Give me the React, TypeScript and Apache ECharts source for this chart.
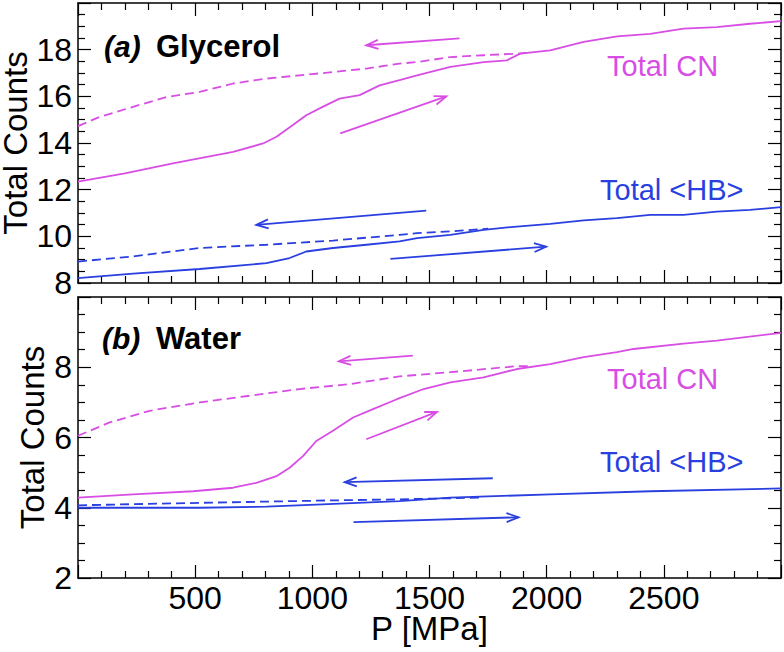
import React, { useEffect, useRef } from "react";
import * as echarts from "echarts";

// ---------- data ----------
const xTickLabels = ["500", "1000", "1500", "2000", "2500"];

// (a) Glycerol — Total CN, compression (solid)
const glyCnUpP = [0, 200, 405, 662, 790, 847, 917, 974, 1044, 1116, 1202, 1287, 1372, 1447, 1589, 1731, 1830, 1887, 2015, 2158, 2300, 2442, 2584, 2726, 2868, 3000];
const glyCnUpY = [12.34, 12.7, 13.13, 13.62, 13.98, 14.27, 14.77, 15.19, 15.55, 15.9, 16.05, 16.47, 16.69, 16.9, 17.26, 17.47, 17.54, 17.83, 17.97, 18.33, 18.57, 18.68, 18.9, 18.97, 19.11, 19.22];
// (a) Glycerol — Total CN, decompression (dashed)
const glyCnDownP = [0, 93, 235, 377, 519, 662, 804, 946, 1088, 1231, 1372, 1447, 1589, 1731, 1873, 1930];
const glyCnDownY = [14.72, 15.12, 15.55, 15.97, 16.19, 16.55, 16.76, 16.9, 17.04, 17.19, 17.4, 17.47, 17.68, 17.76, 17.83, 17.87];
// (a) Glycerol — Total <HB>, compression (solid)
const glyHbUpP = [0, 235, 519, 804, 903, 974, 1088, 1231, 1372, 1447, 1589, 1731, 1873, 2015, 2158, 2300, 2442, 2584, 2726, 2868, 3000];
const glyHbUpY = [8.21, 8.4, 8.6, 8.85, 9.07, 9.35, 9.5, 9.64, 9.78, 9.92, 10.06, 10.28, 10.42, 10.53, 10.68, 10.78, 10.92, 10.92, 11.06, 11.13, 11.25];
// (a) Glycerol — Total <HB>, decompression (dashed)
const glyHbDownP = [0, 235, 519, 804, 1088, 1372, 1447, 1589, 1750];
const glyHbDownY = [8.92, 9.14, 9.5, 9.64, 9.82, 10.06, 10.14, 10.21, 10.33];

// (b) Water — Total CN, compression (solid)
const watCnUpP = [0, 235, 491, 662, 761, 847, 903, 960, 1017, 1088, 1174, 1259, 1361, 1475, 1589, 1731, 1873, 2015, 2158, 2300, 2371, 2584, 2726, 3000];
const watCnUpY = [4.29, 4.38, 4.47, 4.57, 4.71, 4.9, 5.14, 5.47, 5.9, 6.19, 6.57, 6.81, 7.09, 7.38, 7.57, 7.71, 7.95, 8.09, 8.29, 8.43, 8.52, 8.67, 8.76, 8.98];
// (b) Water — Total CN, decompression (dashed)
const watCnDownP = [0, 135, 306, 519, 733, 946, 1160, 1372, 1589, 1873, 1920];
const watCnDownY = [6.05, 6.43, 6.76, 7.0, 7.19, 7.38, 7.52, 7.74, 7.86, 8.03, 8.03];
// (b) Water — Total <HB>, compression (solid)
const watHbUpP = [0, 519, 804, 1017, 1372, 1589, 2015, 2442, 3000];
const watHbUpY = [4.0, 4.0, 4.03, 4.09, 4.19, 4.29, 4.38, 4.47, 4.55];
// (b) Water — Total <HB>, decompression (dashed)
const watHbDownP = [0, 519, 1088, 1372, 1731];
const watHbDownY = [4.07, 4.14, 4.21, 4.24, 4.29];

// arrows: [fromP, fromY, toP, toY]
const glyCnArrows = [[1628, 18.48, 1230, 18.19], [1119, 14.41, 1572, 16.0]];
const glyHbArrows = [[1486, 11.1, 761, 10.49], [1333, 9.03, 1998, 9.56]];
const watCnArrows = [[1429, 8.33, 1113, 8.17], [1230, 5.95, 1532, 6.73]];
const watHbArrows = [[1770, 4.84, 1138, 4.73], [1176, 3.59, 1880, 3.73]];

// ---------- styles ----------
const MAGENTA = "#d84ee4";
const BLUE = "#2a3fe0";
const FONT = "Liberation Sans";

const zip = (xs: number[], ys: number[]) => xs.map((x, i) => [x, ys[i]]);

function lineSeries(xs: number[], ys: number[], color: string, dashed: boolean, panel: number) {
  return {
    type: "line",
    xAxisIndex: panel * 2,
    yAxisIndex: panel * 2,
    data: zip(xs, ys),
    showSymbol: false,
    symbol: "none",
    smooth: false,
    clip: true,
    lineStyle: { color, width: 1.8, type: dashed ? [9, 5] : "solid" },
    z: 3,
  };
}

function arrowSeries(arrows: number[][], color: string, panel: number) {
  return {
    type: "custom",
    xAxisIndex: panel * 2,
    yAxisIndex: panel * 2,
    data: arrows,
    encode: { x: [0, 2], y: [1, 3] },
    clip: false,
    z: 4,
    renderItem: (_params: any, api: any) => {
      const p1 = api.coord([api.value(0), api.value(1)]);
      const p2 = api.coord([api.value(2), api.value(3)]);
      const ang = Math.atan2(p2[1] - p1[1], p2[0] - p1[0]);
      const L = 12;
      const W = 4.5;
      const bx = p2[0] - L * Math.cos(ang);
      const by = p2[1] - L * Math.sin(ang);
      const h1 = [bx + W * Math.sin(ang), by - W * Math.cos(ang)];
      const h2 = [bx - W * Math.sin(ang), by + W * Math.cos(ang)];
      return {
        type: "group",
        children: [
          { type: "polyline", shape: { points: [p1, p2] }, style: { stroke: color, lineWidth: 1.8, fill: null } },
          { type: "polyline", shape: { points: [h1, p2, h2] }, style: { stroke: color, lineWidth: 1.8, fill: null } },
        ],
      };
    },
  };
}

const axisLineStyle = { color: "#000", width: 1.5 };
const tickStyle = { color: "#000", width: 1.2 };

function xAxis(gridIndex: number, position: string, showLabels: boolean, name?: string) {
  return {
    type: "value",
    gridIndex,
    position,
    min: 0,
    max: 3000,
    interval: 500,
    axisLine: { show: true, onZero: false, lineStyle: axisLineStyle },
    axisTick: { show: true, inside: true, length: 13, lineStyle: tickStyle },
    minorTick: { show: true, splitNumber: 5, length: 7, lineStyle: tickStyle },
    splitLine: { show: false },
    axisLabel: {
      show: showLabels,
      showMinLabel: false,
      showMaxLabel: false,
      margin: 4,
      fontSize: 32,
      color: "#000",
      fontFamily: FONT,
      formatter: (v: number) => (xTickLabels.includes(String(v)) ? String(v) : ""),
    },
    name: name || "",
    nameLocation: "middle",
    nameGap: 34,
    nameMoveOverlap: false,
    nameTextStyle: { fontSize: 33, color: "#000", fontFamily: FONT },
  };
}

function yAxis(gridIndex: number, position: string, min: number, max: number, showLabels: boolean, nameGap: number) {
  return {
    type: "value",
    gridIndex,
    position,
    min,
    max,
    interval: 2,
    axisLine: { show: true, onZero: false, lineStyle: axisLineStyle },
    axisTick: { show: true, inside: true, length: 13, lineStyle: tickStyle },
    minorTick: { show: true, splitNumber: 4, length: 7, lineStyle: tickStyle },
    splitLine: { show: false },
    axisLabel: {
      show: showLabels,
      showMaxLabel: false,
      margin: 6,
      fontSize: 32,
      color: "#000",
      fontFamily: FONT,
    },
    name: showLabels ? "Total Counts" : "",
    nameLocation: "middle",
    nameGap,
    nameMoveOverlap: false,
    nameTextStyle: { fontSize: 33, color: "#000", fontFamily: FONT },
  };
}

function label(text: string, x: number, y: number, color: string, weight: string, style: string, size: number) {
  return {
    type: "text",
    x,
    y,
    z: 10,
    style: {
      text,
      fill: color,
      fontFamily: FONT,
      fontSize: size,
      fontWeight: weight,
      fontStyle: style,
      verticalAlign: "middle",
      align: "left",
    },
  };
}

export default function App() {
  const ref = useRef<HTMLDivElement>(null);
  useEffect(() => {
    if (!ref.current) return;
    const chart = echarts.init(ref.current, undefined, { renderer: "svg" });
    const option = {
      animation: false,
      backgroundColor: "#fff",
      grid: [
        { left: 78, right: 3, top: 3, height: 280, containLabel: false, outerBoundsMode: "none" },
        { left: 78, right: 3, top: 297, height: 281, containLabel: false, outerBoundsMode: "none" },
      ],
      xAxis: [
        xAxis(0, "bottom", false),
        xAxis(0, "top", false),
        xAxis(1, "bottom", true, "P [MPa]"),
        xAxis(1, "top", false),
      ],
      yAxis: [
        yAxis(0, "left", 8, 20, true, 46),
        yAxis(0, "right", 8, 20, false, 0),
        yAxis(1, "left", 2, 10, true, 29),
        yAxis(1, "right", 2, 10, false, 0),
      ],
      series: [
        lineSeries(glyCnDownP, glyCnDownY, MAGENTA, true, 0),
        lineSeries(glyCnUpP, glyCnUpY, MAGENTA, false, 0),
        lineSeries(glyHbDownP, glyHbDownY, BLUE, true, 0),
        lineSeries(glyHbUpP, glyHbUpY, BLUE, false, 0),
        lineSeries(watCnDownP, watCnDownY, MAGENTA, true, 1),
        lineSeries(watCnUpP, watCnUpY, MAGENTA, false, 1),
        lineSeries(watHbDownP, watHbDownY, BLUE, true, 1),
        lineSeries(watHbUpP, watHbUpY, BLUE, false, 1),
        arrowSeries(glyCnArrows, MAGENTA, 0),
        arrowSeries(glyHbArrows, BLUE, 0),
        arrowSeries(watCnArrows, MAGENTA, 1),
        arrowSeries(watHbArrows, BLUE, 1),
      ],
      graphic: [
        label("(a)", 104, 46, "#000", "bold", "italic", 30),
        label("Glycerol", 156, 46, "#000", "bold", "normal", 31),
        label("Total CN", 607, 66, MAGENTA, "normal", "normal", 29),
        label("Total <HB>", 600, 190, BLUE, "normal", "normal", 29),
        label("(b)", 102, 338, "#000", "bold", "italic", 30),
        label("Water", 156, 338, "#000", "bold", "normal", 31),
        label("Total CN", 607, 379, MAGENTA, "normal", "normal", 29),
        label("Total <HB>", 600, 462, BLUE, "normal", "normal", 29),
      ],
    };
    chart.setOption(option as any);
    return () => chart.dispose();
  }, []);
  return (
    <div
      ref={ref}
      style={{ position: "absolute", left: 0, top: 0, width: 784, height: 652, background: "#fff" }}
    />
  );
}
